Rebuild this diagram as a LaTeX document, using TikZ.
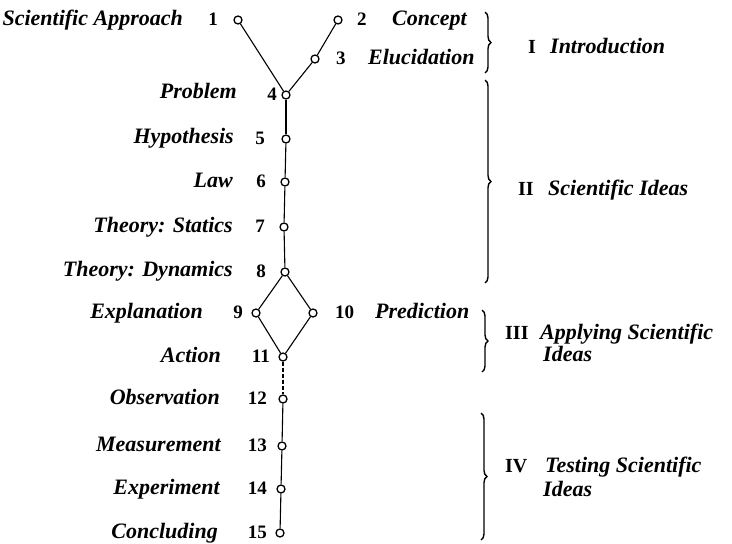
\documentclass[tikz,border=0pt]{standalone}
\usepackage{fontspec}
\setmainfont{Liberation Serif}
\usetikzlibrary{decorations.pathreplacing}
\begin{document}
\begin{tikzpicture}[x=1pt,y=-1pt,
  dot/.style={circle,draw,line width=1.3pt,inner sep=0pt,minimum size=8pt,fill=white},
  lab/.style={font=\fontsize{22}{25}\selectfont\bfseries\itshape,inner sep=0pt},
  num/.style={font=\fontsize{19}{22}\selectfont\bfseries,inner sep=0pt},
  conn/.style={line width=1.1pt},
  brc/.style={decorate,decoration={brace,amplitude=6pt},line width=1.4pt},
  sec/.style={font=\fontsize{22}{25}\selectfont\bfseries\itshape,inner sep=0pt,anchor=base west},
  rom/.style={font=\fontsize{20}{23}\selectfont\bfseries,inner sep=0pt,anchor=base west},
]
\useasboundingbox (0,0) rectangle (732,544);

% dots
\node[dot] (n1) at (238,20) {};
\node[dot] (n2) at (338,20) {};
\node[dot] (n3) at (315,59) {};
\node[dot] (n4) at (286,95) {};
\node[dot] (n5) at (286,139) {};
\node[dot] (n6) at (285,182) {};
\node[dot] (n7) at (284,227) {};
\node[dot] (n8) at (285,272) {};
\node[dot] (n9) at (256,313) {};
\node[dot] (n10) at (313,313) {};
\node[dot] (n11) at (283,357) {};
\node[dot] (n12) at (283,399) {};
\node[dot] (n13) at (282,446) {};
\node[dot] (n14) at (281,489) {};
\node[dot] (n15) at (280,533) {};

% connectors
\draw[conn] (n1) -- (n4);
\draw[conn] (n2) -- (n3);
\draw[conn] (n3) -- (n4);
\draw[conn] (n4) -- (n5);
\draw[conn] (n5) -- (n6);
\draw[conn] (n6) -- (n7);
\draw[conn] (n7) -- (n8);
\draw[conn] (n8) -- (n9);
\draw[conn] (n8) -- (n10);
\draw[conn] (n9) -- (n11);
\draw[conn] (n10) -- (n11);
\draw[conn,dash pattern=on 4pt off 2pt] (n11) -- (n12);
\draw[conn] (n12) -- (n13);
\draw[conn] (n13) -- (n14);
\draw[conn] (n14) -- (n15);

% numbers
\node[num,anchor=base east] (k1) at (218,25) {1};
\node[num,anchor=base west] (k2) at (357,25) {2};
\node[num,anchor=base west] (k3) at (336,64) {3};
\node[num,anchor=base east] (k4) at (277,100) {4};
\node[num,anchor=base east] (k5) at (265,144) {5};
\node[num,anchor=base east] (k6) at (266,187) {6};
\node[num,anchor=base east] (k7) at (265,232) {7};
\node[num,anchor=base east] (k8) at (266,277) {8};
\node[num,anchor=base east] (k9) at (243,318) {9};
\node[num,anchor=base west] (k10) at (335,318) {10};
\node[num,anchor=base east] (k11) at (270,362) {11};
\node[num,anchor=base east] (k12) at (267,404) {12};
\node[num,anchor=base east] (k13) at (267,451) {13};
\node[num,anchor=base east] (k14) at (267,494) {14};
\node[num,anchor=base east] (k15) at (267,538) {15};

% labels
\node[lab,anchor=base east] (l1) at (183,25) {Scientific Approach};
\node[lab,anchor=base west] (l2) at (392,25) {Concept};
\node[lab,anchor=base west] (l3) at (368,64) {Elucidation};
\node[lab,anchor=base east] (l4) at (237,98) {Problem};
\node[lab,anchor=base east] (l5) at (234,143) {Hypothesis};
\node[lab,anchor=base east] (l6) at (233,187) {Law};
\node[lab,anchor=base east] (l7) at (233,232) {Theory: Statics};
\node[lab,anchor=base east] (l8) at (233,276) {Theory: Dynamics};
\node[lab,anchor=base east] (l9) at (203,318) {Explanation};
\node[lab,anchor=base west] (l10) at (375,318) {Prediction};
\node[lab,anchor=base east] (l11) at (221,362) {Action};
\node[lab,anchor=base east] (l12) at (220,404) {Observation};
\node[lab,anchor=base east] (l13) at (221,451) {Measurement};
\node[lab,anchor=base east] (l14) at (220,494) {Experiment};
\node[lab,anchor=base east] (l15) at (218,538) {Concluding};

% braces
\draw[brc] (485,12) -- (485,73);
\draw[brc] (485,80) -- (485,283);
\draw[brc] (482,310) -- (482,372);
\draw[brc] (481,413) -- (481,540);

% section labels
\node[rom] (r1) at (528,53) {I};
\node[sec] (s1) at (550,53) {Introduction};
\node[rom] (r2) at (518,195) {II};
\node[sec] (s2) at (548,195) {Scientific Ideas};
\node[rom] (r3) at (505,339) {III};
\node[sec] (s3) at (540,339) {Applying Scientific};
\node[sec] (s3b) at (543,361) {Ideas};
\node[rom] (r4) at (505,472) {IV};
\node[sec] (s4) at (545,472) {Testing Scientific};
\node[sec] (s4b) at (543,496) {Ideas};
\end{tikzpicture}
\end{document}
